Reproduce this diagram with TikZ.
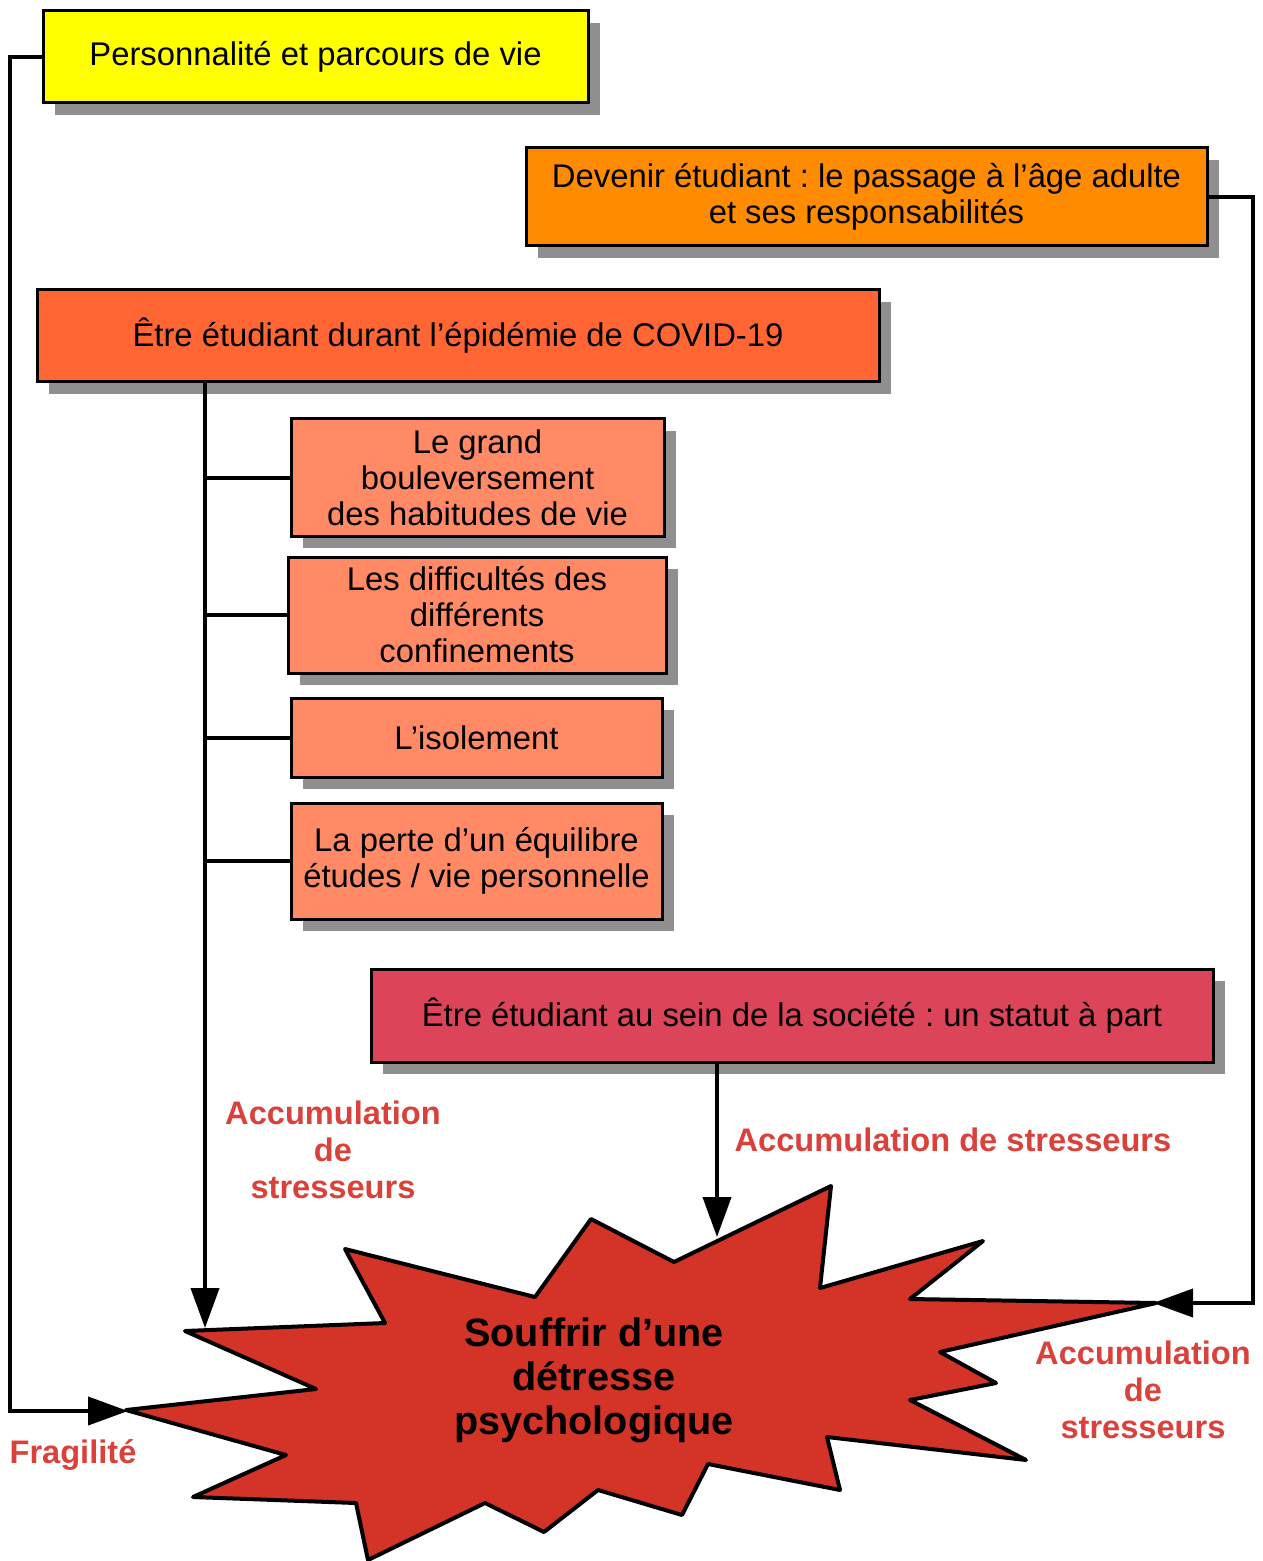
\documentclass[tikz,border=0pt]{standalone}
\usepackage{fontspec}
\setmainfont{Liberation Sans}
\usetikzlibrary{arrows.meta,shadows}
\definecolor{cYellow}{HTML}{FFFF00}
\definecolor{cOrange}{HTML}{FF8C00}
\definecolor{cCovid}{HTML}{FF6633}
\definecolor{cSub}{HTML}{FF8A65}
\definecolor{cSoc}{HTML}{DC4459}
\definecolor{cStar}{HTML}{D33427}
\definecolor{cLabel}{HTML}{D9413A}
\definecolor{cShadow}{HTML}{8F8F8F}
\frenchspacing
\begin{document}
\begin{tikzpicture}[x=0.5pt,y=-0.5pt,
  box/.style={draw=black, line width=1.5pt, inner sep=0pt, align=center,
    font=\fontsize{16.4}{18}\selectfont,
    drop shadow={shadow xshift=6pt,shadow yshift=-6pt,fill=cShadow,opacity=1}},
  conn/.style={line width=2pt},
  arr/.style={conn,-{Triangle[length=20pt,width=14pt]}},
  lab/.style={text=cLabel, font=\bfseries\fontsize{16.3}{18.5}\selectfont, align=center}]
\useasboundingbox (0,0) rectangle (1262,1561);

% boxes
\node[box, fill=cYellow, minimum width=272.5pt, minimum height=46pt] (yel) at (315.5,57)
  {Personnalité et parcours de vie};
\node[box, fill=cOrange, minimum width=340.5pt, minimum height=49pt] (ora) at (866.5,197)
  {Devenir étudiant : le passage à l’âge adulte\\et ses responsabilités};
\node[box, fill=cCovid, minimum width=421pt, minimum height=46pt] (covid) at (458,336)
  {Être étudiant durant l’épidémie de COVID-19};
\node[box, fill=cSub, minimum width=186.5pt, minimum height=58.5pt] (b1) at (477.5,477.5)
  {Le grand\\bouleversement\\des habitudes de vie};
\node[box, fill=cSub, minimum width=189pt, minimum height=58pt] (b2) at (477,615)
  {Les difficultés des\\différents\\confinements};
\node[box, fill=cSub, minimum width=185.5pt, minimum height=39.5pt] (b3) at (476.5,737.5)
  {L’isolement};
\node[box, fill=cSub, minimum width=185.5pt, minimum height=58pt] (b4) at (476.5,861)
  {La perte d’un équilibre\\études / vie personnelle};
\node[box, fill=cSoc, minimum width=421pt, minimum height=46.5pt] (soc) at (792,1015.5)
  {Être étudiant au sein de la société : un statut à part};

% star
\draw[fill=cStar, line width=2pt, line join=round]
  (126,1410) -- (316,1389) -- (185,1331) -- (385,1323) -- (345,1249) -- (535,1297)
  -- (591,1219) -- (674,1262) -- (831,1186) -- (820,1288) -- (983,1241) -- (910,1299)
  -- (1156,1303) -- (940,1352) -- (996,1383) -- (910,1400) -- (1026,1460) -- (827,1437)
  -- (840,1490) -- (708,1464) -- (682,1515) -- (598,1490) -- (544,1532) -- (485,1503)
  -- (368,1560) -- (356,1503) -- (193,1497) -- (286,1455) -- cycle;
\node[font=\bfseries\fontsize{19.8}{22}\selectfont, align=center] (startext) at (594,1380)
  {Souffrir d’une\\détresse\\psychologique};

\coordinate (starL) at (128,1411);
\coordinate (starR) at (1153,1303);
\coordinate (starTL) at (205,1328);
\coordinate (starTM) at (717,1237);
\coordinate (tx) at (205,0);
\coordinate (sx) at (717,0);

% connectors
\draw[arr] (yel.west) -- ++(-32,0) |- (starL);
\draw[arr] (ora.east) -- ++(44,0) |- (starR);
\draw[arr] (tx |- covid.south) -- (starTL);
\foreach \b in {b1,b2,b3,b4} \draw[conn] (tx |- \b.west) -- (\b.west);
\draw[arr] (sx |- soc.south) -- (starTM);

% labels
\node[lab] (l1) at (333,1150) {Accumulation\\de\\stresseurs};
\node[lab] (l2) at (953,1140) {Accumulation de stresseurs};
\node[lab] (l3) at (1143,1390) {Accumulation\\de\\stresseurs};
\node[lab] (l4) at (73,1455) {Fragilité};
\end{tikzpicture}
\end{document}
